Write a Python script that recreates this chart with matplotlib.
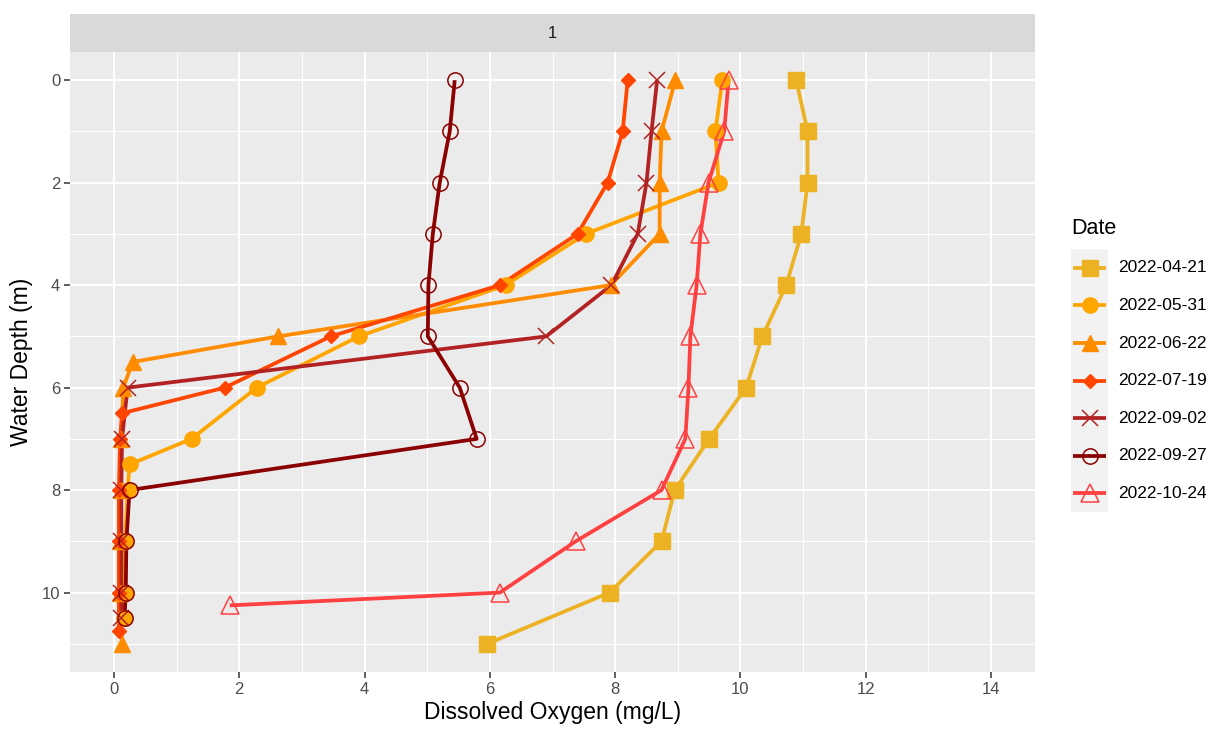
import matplotlib
matplotlib.use("Agg")
import matplotlib.pyplot as plt
from matplotlib.patches import Rectangle

plt.rcParams['font.family'] = ['Liberation Sans', 'DejaVu Sans']

# dissolved oxygen profiles, one list pair per sampling date
dates = ['2022-04-21', '2022-05-31', '2022-06-22', '2022-07-19',
         '2022-09-02', '2022-09-27', '2022-10-24']

depth_0421 = [0, 1, 2, 3, 4, 5, 6, 7, 8, 9, 10, 11]
do_0421 = [10.89, 11.07, 11.07, 10.97, 10.73, 10.35, 10.09, 9.50, 8.95, 8.74, 7.91, 5.96]

depth_0531 = [0, 1, 2, 3, 4, 5, 6, 7, 7.5, 8, 9, 10, 10.5]
do_0531 = [9.71, 9.60, 9.65, 7.53, 6.25, 3.91, 2.28, 1.24, 0.25, 0.22, 0.18, 0.17, 0.16]

depth_0622 = [0, 1, 2, 3, 4, 5, 5.5, 6, 7, 8, 9, 10, 11]
do_0622 = [8.96, 8.74, 8.71, 8.71, 7.93, 2.62, 0.30, 0.15, 0.12, 0.11, 0.10, 0.10, 0.13]

depth_0719 = [0, 1, 2, 3, 4, 5, 6, 6.5, 7, 8, 9, 10, 10.75]
do_0719 = [8.20, 8.12, 7.88, 7.40, 6.16, 3.46, 1.77, 0.13, 0.10, 0.08, 0.08, 0.08, 0.08]

depth_0902 = [0, 1, 2, 3, 4, 5, 6, 7, 8, 9, 10, 10.5]
do_0902 = [8.67, 8.58, 8.50, 8.36, 7.94, 6.90, 0.22, 0.13, 0.12, 0.12, 0.12, 0.12]

depth_0927 = [0, 1, 2, 3, 4, 5, 6, 7, 8, 9, 10, 10.5]
do_0927 = [5.44, 5.36, 5.20, 5.09, 5.02, 5.01, 5.52, 5.79, 0.25, 0.20, 0.19, 0.17]

depth_1024 = [0, 1, 2, 3, 4, 5, 6, 7, 8, 9, 10, 10.25]
do_1024 = [9.81, 9.74, 9.49, 9.36, 9.30, 9.20, 9.17, 9.12, 8.74, 7.37, 6.16, 1.85]

profiles = [(do_0421, depth_0421), (do_0531, depth_0531), (do_0622, depth_0622),
            (do_0719, depth_0719), (do_0902, depth_0902), (do_0927, depth_0927),
            (do_1024, depth_1024)]

colors = ['#EDB223', '#FFA500', '#FF8C00', '#FF4500', '#B22222', '#8B0000', '#FF4040']
markers = ['s', 'o', '^', 'D', 'x', 'o', '^']
msizes = [11, 11, 12, 7.5, 12, 11, 13]
filled = [True, True, True, True, False, False, False]

x_ticks = [0, 2, 4, 6, 8, 10, 12, 14]
y_ticks = [0, 2, 4, 6, 8, 10]

W, H = 1222, 733
fig = plt.figure(figsize=(W / 100, H / 100), dpi=100)

p_left, p_right, p_top, p_bot = 70, 1035, 52, 672
ax = fig.add_axes([p_left / W, 1 - p_bot / H, (p_right - p_left) / W, (p_bot - p_top) / H])
ax.set_facecolor('#EBEBEB')
for s in ax.spines.values():
    s.set_visible(False)

ax.set_xlim(-0.7, 14.7)
ax.set_ylim(11.55, -0.55)
ax.set_xticks(x_ticks)
ax.set_yticks(y_ticks)
ax.set_xticks([1, 3, 5, 7, 9, 11, 13], minor=True)
ax.set_yticks([1, 3, 5, 7, 9, 11], minor=True)
ax.grid(which='major', color='white', lw=1.4)
ax.grid(which='minor', color='white', lw=0.7)
ax.set_axisbelow(True)
ax.tick_params(which='major', length=4, width=1.1, color='#333333',
               labelsize=12, labelcolor='#4D4D4D', pad=3)
ax.tick_params(which='minor', length=0)

# lines first, then points (like geom_line + geom_point)
for (xv, yv), c in zip(profiles, colors):
    ax.plot(xv, yv, color=c, lw=2.7, solid_capstyle='butt', zorder=2)
for (xv, yv), c, m, ms, f in zip(profiles, colors, markers, msizes, filled):
    if f:
        ax.plot(xv, yv, ls='none', marker=m, ms=ms, color=c, mec=c, zorder=3)
    else:
        ax.plot(xv, yv, ls='none', marker=m, ms=ms, mfc='none', mec=c, mew=1.1, zorder=3)

ax.set_xlabel('Dissolved Oxygen (mg/L)', fontsize=16.5, labelpad=3)
ax.set_ylabel('Water Depth (m)', fontsize=16.5, labelpad=6)

# facet strip
sax = fig.add_axes([p_left / W, 1 - p_top / H, (p_right - p_left) / W, 38 / H])
sax.set_facecolor('#D9D9D9')
sax.set_xticks([])
sax.set_yticks([])
for s in sax.spines.values():
    s.set_visible(False)
sax.text(0.5, 0.5, '1', ha='center', va='center', fontsize=12, color='#1A1A1A',
         transform=sax.transAxes)

# legend drawn by hand in pixel coordinates
lax = fig.add_axes([0, 0, 1, 1], facecolor='none')
lax.set_xlim(0, W)
lax.set_ylim(H, 0)
lax.axis('off')
lax.text(1071, 228, 'Date', fontsize=15.5, va='center', ha='left')
key_top, key_h, key_x0, key_w = 249, 37.6, 1071, 37
for i, (d, c, m, ms, f) in enumerate(zip(dates, colors, markers, msizes, filled)):
    y0 = key_top + i * key_h
    yc = y0 + key_h / 2
    lax.add_patch(Rectangle((key_x0, y0), key_w, key_h, facecolor='#F2F2F2', edgecolor='none'))
    lax.plot([key_x0 + 2, key_x0 + key_w - 2], [yc, yc], color=c, lw=2.7, solid_capstyle='butt')
    if f:
        lax.plot([key_x0 + key_w / 2], [yc], marker=m, ms=ms, color=c, ls='none')
    else:
        lax.plot([key_x0 + key_w / 2], [yc], marker=m, ms=ms, mfc='none', mec=c, mew=1.1, ls='none')
    lax.text(1118, yc, d, fontsize=12.5, va='center', ha='left', color='#000000')

fig.savefig('out.png', dpi=100)
